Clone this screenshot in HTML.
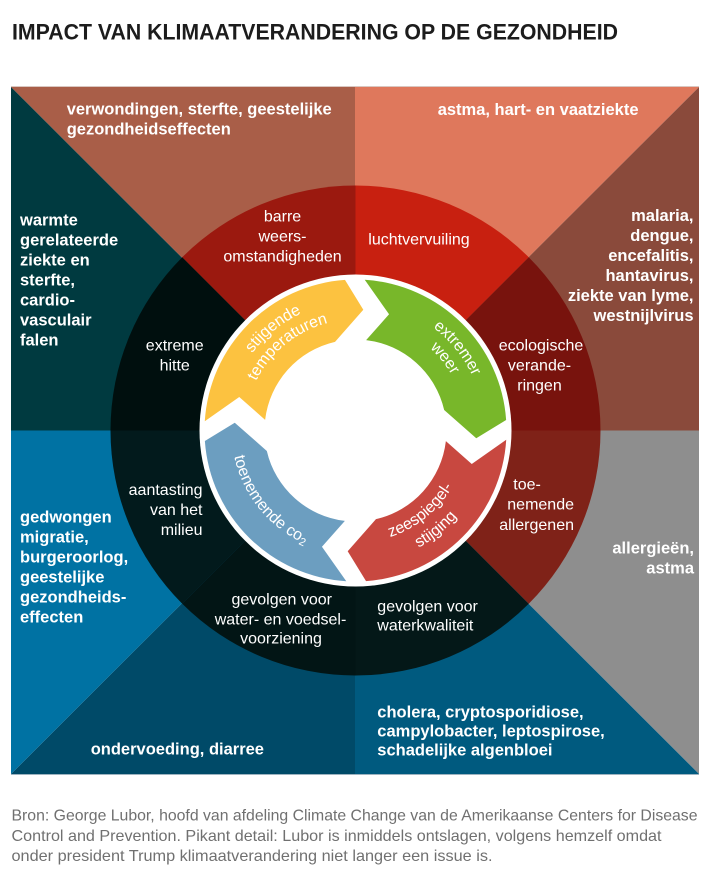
<!DOCTYPE html>
<html><head><meta charset="utf-8"><style>
html,body{margin:0;padding:0;background:#fff;}
svg{display:block;}
.o{font-family:"Liberation Sans",sans-serif;font-weight:bold;font-size:16.5px;fill:#fff;}
.r{font-family:"Liberation Sans",sans-serif;font-size:16px;fill:#fff;}
.a{font-family:"Liberation Sans",sans-serif;font-size:16px;fill:#fff;}
.f{font-family:"Liberation Sans",sans-serif;font-size:16px;fill:#707070;}
</style></head><body>
<svg width="710" height="878" viewBox="0 0 710 878" xmlns="http://www.w3.org/2000/svg">
<defs>
<path id="y1" d="M226.81,439.50 A129,129 0 0 1 391.06,306.50"/>
<path id="y2" d="M244.77,438.24 A111,111 0 0 1 386.10,323.80"/>
<path id="g1" d="M346.50,301.81 A129,129 0 0 1 479.50,466.06"/>
<path id="g2" d="M347.76,319.77 A111,111 0 0 1 462.20,461.10"/>
<path id="r1" d="M324.63,538.16 A112,112 0 0 0 467.23,422.69"/>
<path id="r2" d="M318.84,558.35 A133,133 0 0 0 488.18,421.22"/>
<path id="b1" d="M236.30,396.32 A124,124 0 0 0 364.15,554.20"/>
</defs>
<rect width="710" height="878" fill="#fff"/>
<text x="12" y="39.3" font-family="Liberation Sans, sans-serif" font-weight="bold" font-size="22" fill="#1c1c1c" textLength="606" lengthAdjust="spacingAndGlyphs">IMPACT VAN KLIMAATVERANDERING OP DE GEZONDHEID</text>

<!-- octants -->
<polygon points="11,87 355,87 355,430.5" fill="#a95e48"/>
<polygon points="355,87 699,87 355,430.5" fill="#df785c"/>
<polygon points="699,87 699,430.5 355,430.5" fill="#8a4a3b"/>
<polygon points="699,430.5 699,774 355,430.5" fill="#8e8e8e"/>
<polygon points="699,774 355,774 355,430.5" fill="#005a7f"/>
<polygon points="355,774 11,774 355,430.5" fill="#004a68"/>
<polygon points="11,774 11,430.5 355,430.5" fill="#0072a3"/>
<polygon points="11,430.5 11,87 355,430.5" fill="#003a40"/>
<rect x="11" y="86" width="688" height="1" fill="#d9c7c1"/>
<rect x="11" y="774" width="688" height="1" fill="#9db3c0"/>

<!-- ring wedges -->
<path d="M355.5,430.5 L182.26,257.26 A245,245 0 0 1 355.5,185.5 Z" fill="#9b190f"/>
<path d="M355.5,430.5 L355.5,185.5 A245,245 0 0 1 528.74,257.26 Z" fill="#c82010"/>
<path d="M355.5,430.5 L528.74,257.26 A245,245 0 0 1 600.5,430.5 Z" fill="#78130d"/>
<path d="M355.5,430.5 L600.5,430.5 A245,245 0 0 1 528.74,603.74 Z" fill="#7f2218"/>
<path d="M355.5,430.5 L528.74,603.74 A245,245 0 0 1 355.5,675.5 Z" fill="#041818"/>
<path d="M355.5,430.5 L355.5,675.5 A245,245 0 0 1 182.26,603.74 Z" fill="#021515"/>
<path d="M355.5,430.5 L182.26,603.74 A245,245 0 0 1 110.5,430.5 Z" fill="#021a1c"/>
<path d="M355.5,430.5 L110.5,430.5 A245,245 0 0 1 182.26,257.26 Z" fill="#000f0e"/>

<circle cx="355.5" cy="430.5" r="156" fill="#fff"/>

<!-- arrows -->
<path d="M204.78,421.28 A151,151 0 0 1 344.97,279.87 L363.31,309.75 L335.03,341.83 A91,91 0 0 0 265.12,419.88 L239.25,396.95 Z" fill="#fcc240"/>
<path transform="rotate(90 355.5 430.5)" d="M204.78,421.28 A151,151 0 0 1 344.97,279.87 L363.31,309.75 L335.03,341.83 A91,91 0 0 0 265.12,419.88 L239.25,396.95 Z" fill="#78b72a"/>
<path transform="rotate(180 355.5 430.5)" d="M204.78,421.28 A151,151 0 0 1 344.97,279.87 L363.31,309.75 L335.03,341.83 A91,91 0 0 0 265.12,419.88 L239.25,396.95 Z" fill="#c84840"/>
<path transform="rotate(270 355.5 430.5)" d="M204.78,421.28 A151,151 0 0 1 344.97,279.87 L363.31,309.75 L335.03,341.83 A91,91 0 0 0 265.12,419.88 L239.25,396.95 Z" fill="#6c9ec0"/>

<!-- arrow labels -->
<text class="a"><textPath href="#y1" startOffset="50%" text-anchor="middle">stijgende</textPath></text>
<text class="a"><textPath href="#y2" startOffset="50%" text-anchor="middle">temperaturen</textPath></text>
<text class="a"><textPath href="#g1" startOffset="50%" text-anchor="middle">extremer</textPath></text>
<text class="a"><textPath href="#g2" startOffset="50%" text-anchor="middle">weer</textPath></text>
<text class="a"><textPath href="#r1" startOffset="50%" text-anchor="middle">zeespiegel-</textPath></text>
<text class="a"><textPath href="#r2" startOffset="50%" text-anchor="middle">stijging</textPath></text>
<text class="a"><textPath href="#b1" startOffset="50%" text-anchor="middle">toenemende co<tspan font-size="11" dy="3">2</tspan></textPath></text>

<!-- outer labels -->
<text class="o" x="66.7" y="114.3">verwondingen, sterfte, geestelijke</text>
<text class="o" x="66.7" y="134.3">gezondheidseffecten</text>
<text class="o" x="437.7" y="115">astma, hart- en vaatziekte</text>

<text class="o" x="20" y="225.7">warmte</text>
<text class="o" x="20" y="245.7">gerelateerde</text>
<text class="o" x="20" y="265.7">ziekte en</text>
<text class="o" x="20" y="285.7">sterfte,</text>
<text class="o" x="20" y="305.7">cardio-</text>
<text class="o" x="20" y="325.7">vasculair</text>
<text class="o" x="20" y="345.7">falen</text>

<g text-anchor="end">
<text class="o" x="693.5" y="221">malaria,</text>
<text class="o" x="693.5" y="241">dengue,</text>
<text class="o" x="693.5" y="261">encefalitis,</text>
<text class="o" x="693.5" y="281">hantavirus,</text>
<text class="o" x="693.5" y="301">ziekte van lyme,</text>
<text class="o" x="693.5" y="321">westnijlvirus</text>
<text class="o" x="694" y="553.3">allergieën,</text>
<text class="o" x="694" y="573.3">astma</text>
</g>

<text class="o" x="20" y="522.3">gedwongen</text>
<text class="o" x="20" y="542.3">migratie,</text>
<text class="o" x="20" y="562.3">burgeroorlog,</text>
<text class="o" x="20" y="582.3">geestelijke</text>
<text class="o" x="20" y="602.3">gezondheids-</text>
<text class="o" x="20" y="622.3">effecten</text>

<text class="o" x="90.7" y="754.3">ondervoeding, diarree</text>

<text class="o" x="377.3" y="717.7">cholera, cryptosporidiose,</text>
<text class="o" x="377.3" y="736.7">campylobacter, leptospirose,</text>
<text class="o" x="377.3" y="755.5">schadelijke algenbloei</text>

<!-- ring labels -->
<g text-anchor="middle">
<text class="r" x="282.5" y="221.7">barre</text>
<text class="r" x="282.5" y="241.7">weers-</text>
<text class="r" x="282.5" y="261.7">omstandigheden</text>
<text class="r" x="174.7" y="350.7">extreme</text>
<text class="r" x="174.7" y="370.7">hitte</text>
<text class="r" x="541" y="350.7">ecologische</text>
<text class="r" x="539.5" y="370.7">verande-</text>
<text class="r" x="539.5" y="390.7">ringen</text>
<text class="r" x="281.7" y="604.3">gevolgen voor</text>
<text class="r" x="280.5" y="624.3">water- en voedsel-</text>
<text class="r" x="281" y="643.3">voorziening</text>
</g>
<text class="r" x="368.3" y="244.3">luchtvervuiling</text>
<g text-anchor="end">
<text class="r" x="202.5" y="495">aantasting</text>
<text class="r" x="202.5" y="515">van het</text>
<text class="r" x="202.5" y="535">milieu</text>
<text class="r" x="574" y="509.3">nemende</text>
<text class="r" x="574" y="530">allergenen</text>
</g>
<text class="r" x="513.3" y="489.3">toe-</text>
<text class="r" x="377.3" y="611.7">gevolgen voor</text>
<text class="r" x="377.3" y="630.7">waterkwaliteit</text>

<!-- footer -->
<text class="f" x="11.5" y="820.5" textLength="686" lengthAdjust="spacingAndGlyphs">Bron: George Lubor, hoofd van afdeling Climate Change van de Amerikaanse Centers for Disease</text>
<text class="f" x="11.5" y="840.8" textLength="650" lengthAdjust="spacingAndGlyphs">Control and Prevention. Pikant detail: Lubor is inmiddels ontslagen, volgens hemzelf omdat</text>
<text class="f" x="11.5" y="861" textLength="481" lengthAdjust="spacingAndGlyphs">onder president Trump klimaatverandering niet langer een issue is.</text>
</svg>
</body></html>
